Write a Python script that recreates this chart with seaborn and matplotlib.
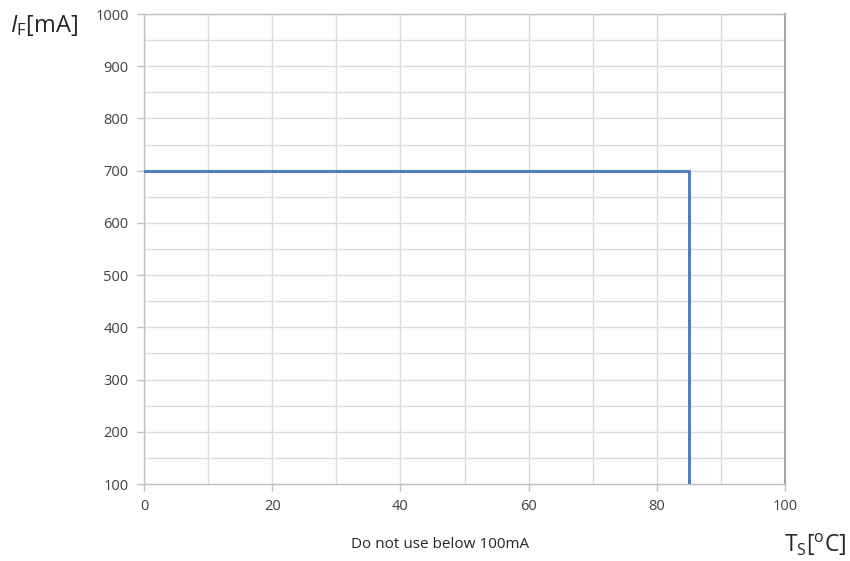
import matplotlib
matplotlib.use("Agg")
import matplotlib.pyplot as plt
import seaborn as sns
import pandas as pd

# Data
temps = [0, 85, 85]
currents = [700, 700, 100]
x_ticks = [0, 20, 40, 60, 80, 100]
y_ticks = [100, 200, 300, 400, 500, 600, 700, 800, 900, 1000]

sns.set_theme(style="white")
plt.rcParams['font.family'] = ['Open Sans', 'DejaVu Sans']
plt.rcParams['mathtext.fontset'] = 'custom'
plt.rcParams['mathtext.rm'] = 'Open Sans'
plt.rcParams['mathtext.it'] = 'Open Sans:italic'
plt.rcParams['xtick.bottom'] = True
plt.rcParams['ytick.left'] = True

df = pd.DataFrame({"Ts": temps, "IF": currents})

fig = plt.figure(figsize=(8.5, 5.61), dpi=100)
ax = fig.add_axes([144/850, 1-484/561, (785-144)/850, (484-14)/561])

# grid
for xv in range(0, 101, 10):
    ax.axvline(xv, color="#dcdcdc", lw=1.0, zorder=0)
for yv in range(100, 1001, 50):
    ax.axhline(yv, color="#dcdcdc", lw=1.0, zorder=0)

sns.lineplot(data=df, x="Ts", y="IF", sort=False, estimator=None, errorbar=None,
             ax=ax, color="#4f81bd", lw=2.2, zorder=3)

ax.set_xlim(0, 100)
ax.set_ylim(100, 1000)
ax.set_xticks(x_ticks)
ax.set_yticks(y_ticks)
ax.tick_params(axis="both", labelsize=10.5, labelcolor="#404040", length=5, width=1,
               direction="out", pad=6, color="#bfbfbf")
ax.set_xlabel("")
ax.set_ylabel("")
for s in ["left", "bottom", "top"]:
    ax.spines[s].set_color("#bfbfbf")
    ax.spines[s].set_linewidth(1.0)
ax.spines["right"].set_color("#a6a6a6")
ax.spines["right"].set_linewidth(1.5)

fig.text(10/850, 1-26/561, r"$\mathit{I}_{\mathrm{F}}$[mA]", fontsize=17, color="#262626", va="center", ha="left")
fig.text(784/850, 1-545/561, r"T$_{\mathrm{S}}$[$^{\mathrm{o}}$C]", fontsize=16.5, color="#262626", va="center", ha="left")
fig.text(440/850, 1-545/561, "Do not use below 100mA", fontsize=11, color="#262626", va="center", ha="center")

fig.savefig("out.png", dpi=100, facecolor="white")
